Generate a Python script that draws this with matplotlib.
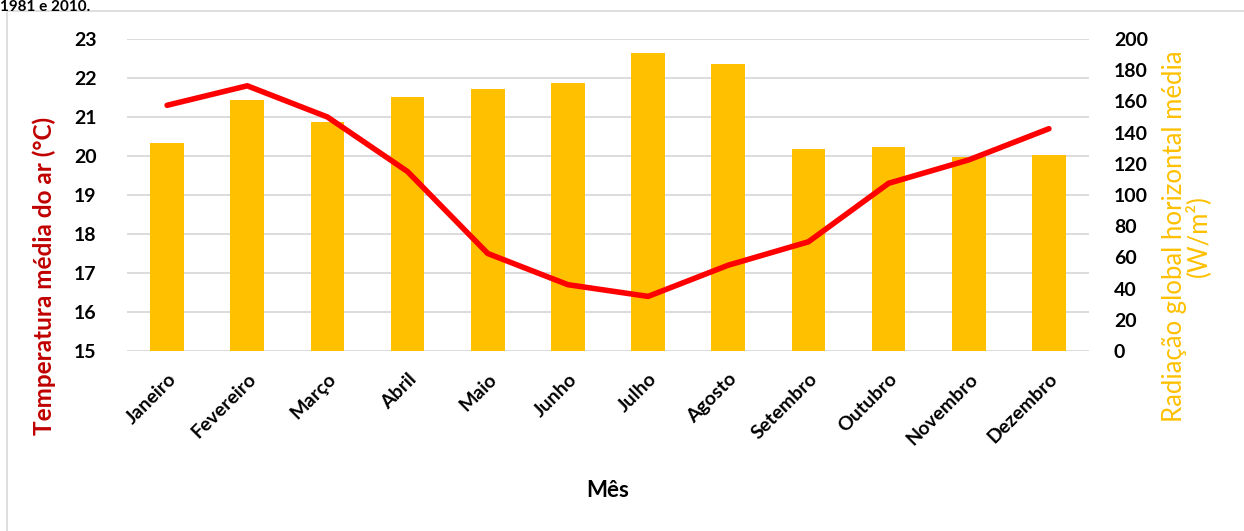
import matplotlib
matplotlib.use("Agg")
from matplotlib import pyplot as plt
from matplotlib.patches import Rectangle

meses = ["Janeiro", "Fevereiro", "Março", "Abril", "Maio", "Junho",
         "Julho", "Agosto", "Setembro", "Outubro", "Novembro", "Dezembro"]
# temperatura média do ar (°C)
temperatura = [21.3, 21.8, 21.0, 19.6, 17.5, 16.7, 16.4, 17.2, 17.8, 19.3, 19.9, 20.7]
# radiação global horizontal média (W/m²)
radiacao = [133.5, 161, 147, 163, 168, 171.5, 191, 184, 129.5, 131, 124.5, 125.5]

temp_ticks = list(range(15, 24))
rad_ticks = list(range(0, 201, 20))

plt.rcParams['font.family'] = ['Lato', 'DejaVu Sans']

fig = plt.figure(figsize=(12.44, 5.31), dpi=100)
fig.patches.append(Rectangle((7 / 1244, -0.05), 1.1, 1.05 - 11 / 531, transform=fig.transFigure,
                             fill=False, edgecolor='#D9D9D9', linewidth=1.2))
fig.text(0.0, 1.0, "1981 e 2010.", fontsize=11, fontweight='bold', ha='left', va='top')

rect = [127 / 1244, 1 - 351 / 531, (1089 - 127) / 1244, (351 - 39) / 531]
ax = fig.add_axes(rect)
x = list(range(len(meses)))

# eixo base: grade e escala de temperatura
ax.set_ylim(15, 23)
ax.set_yticks(temp_ticks)
ax.set_xlim(-0.5, len(meses) - 0.5)
ax.grid(axis='y', color='#D9D9D9', linewidth=1.3)
ax.set_axisbelow(True)
for s in ax.spines.values():
    s.set_visible(False)
ax.tick_params(axis='both', length=0, labelsize=14)
ax.tick_params(axis='y', pad=22)
for lb in ax.get_yticklabels():
    lb.set_fontweight('bold')
ax.set_xticks(x)
ax.set_xticklabels(meses, rotation=45, ha='right', rotation_mode='anchor', fontweight='bold', fontsize=14)
ax.tick_params(axis='x', pad=14)
ax.set_ylabel("Temperatura média do ar (°C)", color='#C00000', fontsize=17.5, fontweight='bold')
ax.yaxis.set_label_coords(-0.074, 0.24)
ax.set_xlabel("Mês", fontsize=16, fontweight='bold')
ax.xaxis.set_label_coords(0.5, -0.415)

# barras de radiação no eixo da direita
ax2 = ax.twinx()
ax2.bar(x, radiacao, width=0.42, color='#FFC000')
ax2.set_ylim(0, 200)
ax2.set_yticks(rad_ticks)
for s in ax2.spines.values():
    s.set_visible(False)
ax2.tick_params(axis='y', length=0, labelsize=14, pad=18)
for lb in ax2.get_yticklabels():
    lb.set_fontweight('bold')
ax2.set_ylabel("Radiação global horizontal média\n(W/m²)", color='#FFC000', fontsize=18.5,
               linespacing=0.9)
ax2.yaxis.set_label_coords(1.076, 0.367)

# linha de temperatura por cima das barras
ax3 = ax.twinx()
ax3.set_ylim(15, 23)
ax3.plot(x, temperatura, color='#FF0000', linewidth=4, solid_capstyle='round')
ax3.axis('off')

fig.savefig("out.png", dpi=100)
